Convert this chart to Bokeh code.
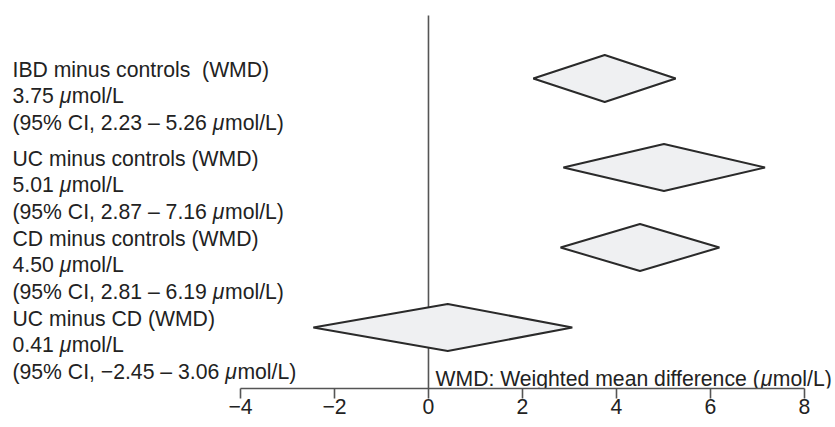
from bokeh.plotting import figure
from bokeh.models import Range1d, FixedTicker, ColumnDataSource
from bokeh.core.properties import value
from bokeh.embed import file_html
from bokeh.resources import INLINE

# ---------------- data ----------------
comparisons = ["IBD minus controls\u00a0 (WMD)", "UC minus controls (WMD)",
               "CD minus controls (WMD)", "UC minus CD (WMD)"]
wmd = [3.75, 5.01, 4.50, 0.41]
ci_low = [2.23, 2.87, 2.81, -2.45]
ci_high = [5.26, 7.16, 6.19, 3.06]
wmd_text = ["3.75", "5.01", "4.50", "0.41"]
ci_low_text = ["2.23", "2.87", "2.81", "\u22122.45"]
ci_high_text = ["5.26", "7.16", "6.19", "3.06"]
unit = "\u03bcmol/L"
x_ticks = [-4, -2, 0, 2, 4, 6, 8]
x_tick_labels = ["\u22124", "\u22122", "0", "2", "4", "6", "8"]
axis_title = "WMD: Weighted mean difference (\u03bcmol/L)"

# ---------------- layout / style ----------------
FONT = "Liberation Sans"
FS = 21.2
TEXT_COLOR = "#222222"
FRAME_W, FRAME_H = 835, 388
X0, X1 = -9.106, 8.660
ROW0, STEP, FIRST_GAP = 78, 80, 9
HALF_H = 23.5
LINE_OFFS = [-9.5, 16.5, 43.5]

# Arial / Liberation Sans advance widths (1/1000 em) for offsetting the italic mu
W = {' ': 278, '\u00a0': 278, '(': 333, ')': 333, '%': 889, ',': 278, '.': 278, '/': 278,
     ':': 278, '\u2013': 556, '\u2212': 584, 'C': 722, 'I': 278, 'L': 556, 'D': 722,
     'M': 833, 'W': 944, 'B': 667, 'U': 722, 'a': 556, 'c': 500, 'd': 556, 'e': 556,
     'f': 278, 'g': 556, 'h': 556, 'i': 222, 'l': 222, 'm': 833, 'n': 556, 'o': 556,
     'r': 333, 's': 500, 't': 278, 'u': 556, '\u03bc': 576}
for d in "0123456789":
    W[d] = 556


def tw(s):
    return sum(W.get(ch, 556) for ch in s) * FS / 1000.0


normal = dict(x=[], y=[], text=[], xo=[])
italic = dict(x=[], y=[], text=[], xo=[])


def add_line(x, y, s, xo):
    if "\u03bc" in s:
        pre, post = s.split("\u03bc", 1)
        normal["x"].append(x); normal["y"].append(y); normal["text"].append(pre); normal["xo"].append(xo)
        italic["x"].append(x); italic["y"].append(y); italic["text"].append("\u03bc")
        italic["xo"].append(xo + tw(pre))
        normal["x"].append(x); normal["y"].append(y); normal["text"].append(post)
        normal["xo"].append(xo + tw(pre) + tw("\u03bc"))
    else:
        normal["x"].append(x); normal["y"].append(y); normal["text"].append(s); normal["xo"].append(xo)


centers = [ROW0 + i * STEP + (FIRST_GAP if i > 0 else 0) for i in range(len(comparisons))]

xs, ys = [], []
for i in range(len(comparisons)):
    c = centers[i]
    xs.append([ci_low[i], wmd[i], ci_high[i], wmd[i]])
    ys.append([c, c - HALF_H, c, c + HALF_H])
    lines = [comparisons[i],
             f"{wmd_text[i]} {unit}",
             f"(95% CI, {ci_low_text[i]} \u2013 {ci_high_text[i]} {unit})"]
    for off, s in zip(LINE_OFFS, lines):
        add_line(X0, c + off, s, 12)

add_line(0, FRAME_H - 10, axis_title, 7)

p = figure(frame_width=FRAME_W, frame_height=FRAME_H,
           x_range=Range1d(X0, X1), y_range=Range1d(FRAME_H, 0),
           output_backend="svg", toolbar_location=None,
           y_axis_location=None, min_border=0,
           background_fill_color="white", border_fill_color="white")
p.outline_line_color = None
p.xgrid.visible = False
p.ygrid.visible = False

# zero line
p.segment(x0=[0], y0=[15], x1=[0], y1=[FRAME_H], line_color="#555555", line_width=1.6)

# diamonds
p.patches(xs, ys, fill_color="#eff0f2", line_color="#2a2a2a", line_width=2)

# texts
p.text(x="x", y="y", text="text", x_offset="xo", source=ColumnDataSource(normal),
       text_font=value(FONT), text_font_size=f"{FS}px", text_color=TEXT_COLOR,
       text_baseline="alphabetic", text_align="left")
p.text(x="x", y="y", text="text", x_offset="xo", source=ColumnDataSource(italic),
       text_font=value(FONT), text_font_size=f"{FS}px", text_color=TEXT_COLOR,
       text_font_style="italic", text_baseline="alphabetic", text_align="left")

ax = p.xaxis[0]
ax.bounds = (x_ticks[0], x_ticks[-1])
ax.ticker = FixedTicker(ticks=x_ticks)
ax.major_label_overrides = {t: l for t, l in zip(x_ticks, x_tick_labels)}
ax.minor_tick_line_color = None
ax.axis_line_color = "#555555"
ax.axis_line_width = 1.6
ax.major_tick_line_color = "#555555"
ax.major_tick_line_width = 1.6
ax.major_tick_in = 0
ax.major_tick_out = 10
ax.major_label_standoff = 0
ax.major_label_text_font = FONT
ax.major_label_text_font_size = f"{FS}px"
ax.major_label_text_color = TEXT_COLOR

open("out.html", "w").write(file_html(p, INLINE))
